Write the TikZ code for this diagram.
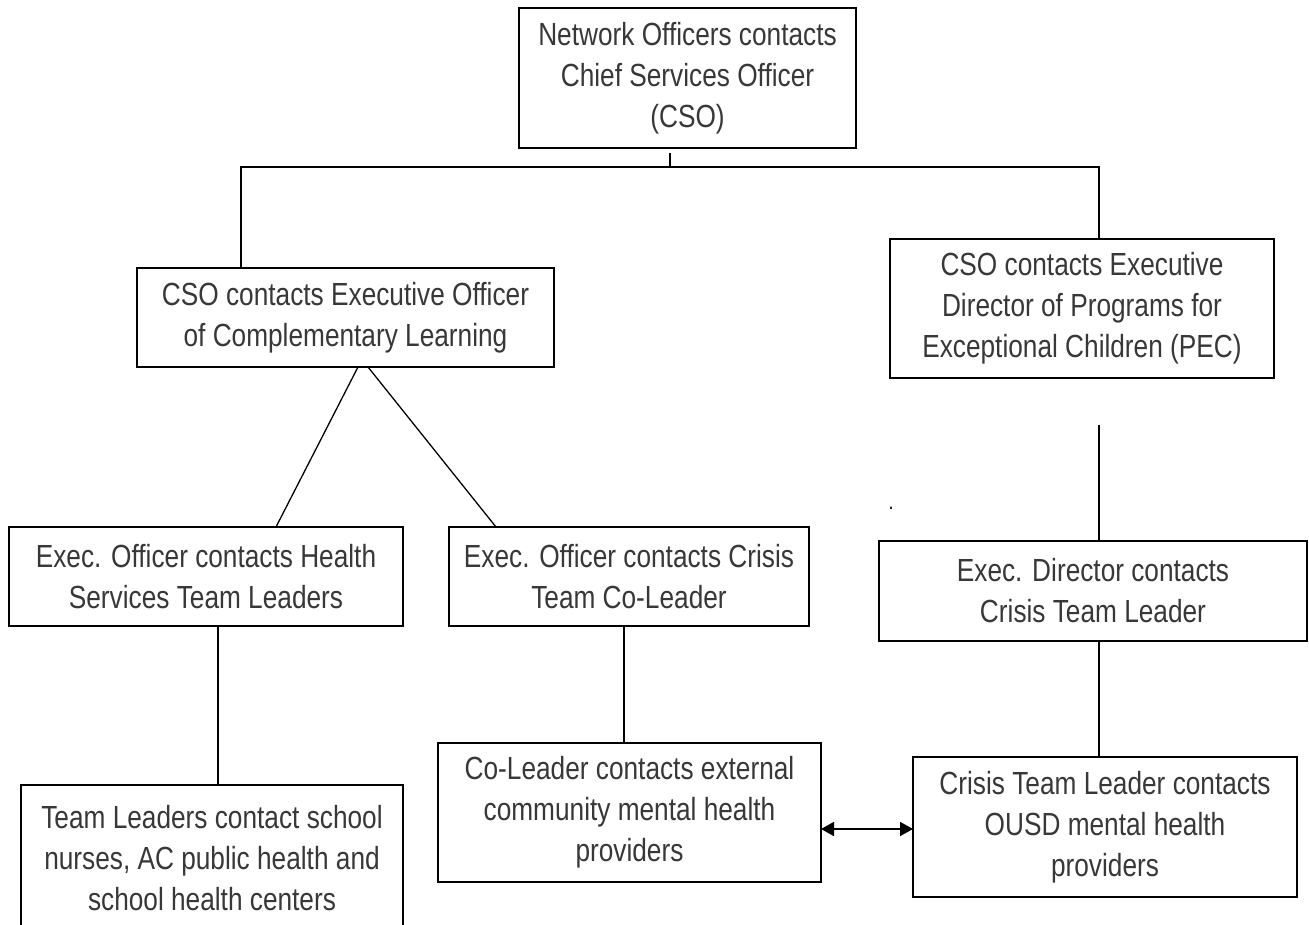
\documentclass[tikz,border=0pt]{standalone}
\usepackage{fontspec}
\setmainfont{Liberation Sans}[FakeStretch=0.82]
\usetikzlibrary{arrows.meta,calc}
\begin{document}
\begin{tikzpicture}[x=1pt,y=-1pt,
  box/.style={draw=black,line width=1.6pt,inner sep=0pt,outer sep=0pt,align=center,
    font=\fontsize{32}{41}\selectfont,text=black!78},
  conn/.style={draw=black,line width=1.3pt},
  dbl/.style={draw=black,line width=1.8pt,{Triangle[length=13pt,width=14pt]}-{Triangle[length=13pt,width=14pt]}}]
\useasboundingbox[fill=white] (0,0) rectangle (1309,924);

\node[box,minimum width=337pt,minimum height=140pt] (top) at (687.5,78)
  {Network Officers contacts\\Chief Services Officer\\(CSO)};
\node[box,minimum width=417pt,minimum height=99pt] (lm) at (345.5,317.5)
  {CSO contacts Executive Officer\\of Complementary Learning};
\node[box,minimum width=384pt,minimum height=139pt] (pec) at (1082,308.5)
  {CSO contacts Executive\\Director of Programs for\\Exceptional Children (PEC)};
\node[box,minimum width=394pt,minimum height=99pt] (hb) at (206,576.5)
  {Exec. Officer contacts Health\\Services Team Leaders};
\node[box,minimum width=360pt,minimum height=99pt] (cc) at (629,576.5)
  {Exec. Officer contacts Crisis\\Team Co-Leader};
\node[box,minimum width=428pt,minimum height=100pt] (ed) at (1093,591)
  {Exec. Director contacts\\Crisis Team Leader};
\node[box,minimum width=382pt,minimum height=147pt] (tl) at (212,858.5)
  {Team Leaders contact school\\nurses, AC public health and\\school health centers};
\node[box,minimum width=383pt,minimum height=139pt] (co) at (629.5,812.5)
  {Co-Leader contacts external\\community mental health\\providers};
\node[box,minimum width=384pt,minimum height=140pt] (ctl) at (1105,827)
  {Crisis Team Leader contacts\\OUSD mental health\\providers};

\node[font=\fontsize{22}{22}\selectfont,inner sep=0pt] (dot) at (891,508) {.};

\coordinate (ct) at (670,153);
\coordinate (jm) at (670,167);
\coordinate (jl) at (241,167);
\coordinate (jr) at (1099,167);

\draw[conn] (ct) -- (jm);
\draw[conn] (lm.north -| jl) -- (jl) -- (jr) -- (pec.north -| jr);
\draw[conn] ($(pec.south west)+(209,47)$) -- ($(ed.north west)+(220,0)$);
\draw[conn] ($(lm.south west)+(221,0)$) -- ($(hb.north west)+(267,0)$);
\draw[conn] ($(lm.south west)+(231,0)$) -- ($(cc.north west)+(47,0)$);
\draw[conn] ($(hb.south west)+(209,0)$) -- ($(tl.north west)+(197,0)$);
\draw[conn] ($(cc.south west)+(175,0)$) -- ($(co.north west)+(186,0)$);
\draw[conn] ($(ed.south west)+(220,0)$) -- ($(ctl.north west)+(186,0)$);
\draw[dbl] ($(co.south east)+(0,-53)$) -- ($(ctl.south west)+(0,-68)$);
\end{tikzpicture}
\end{document}
